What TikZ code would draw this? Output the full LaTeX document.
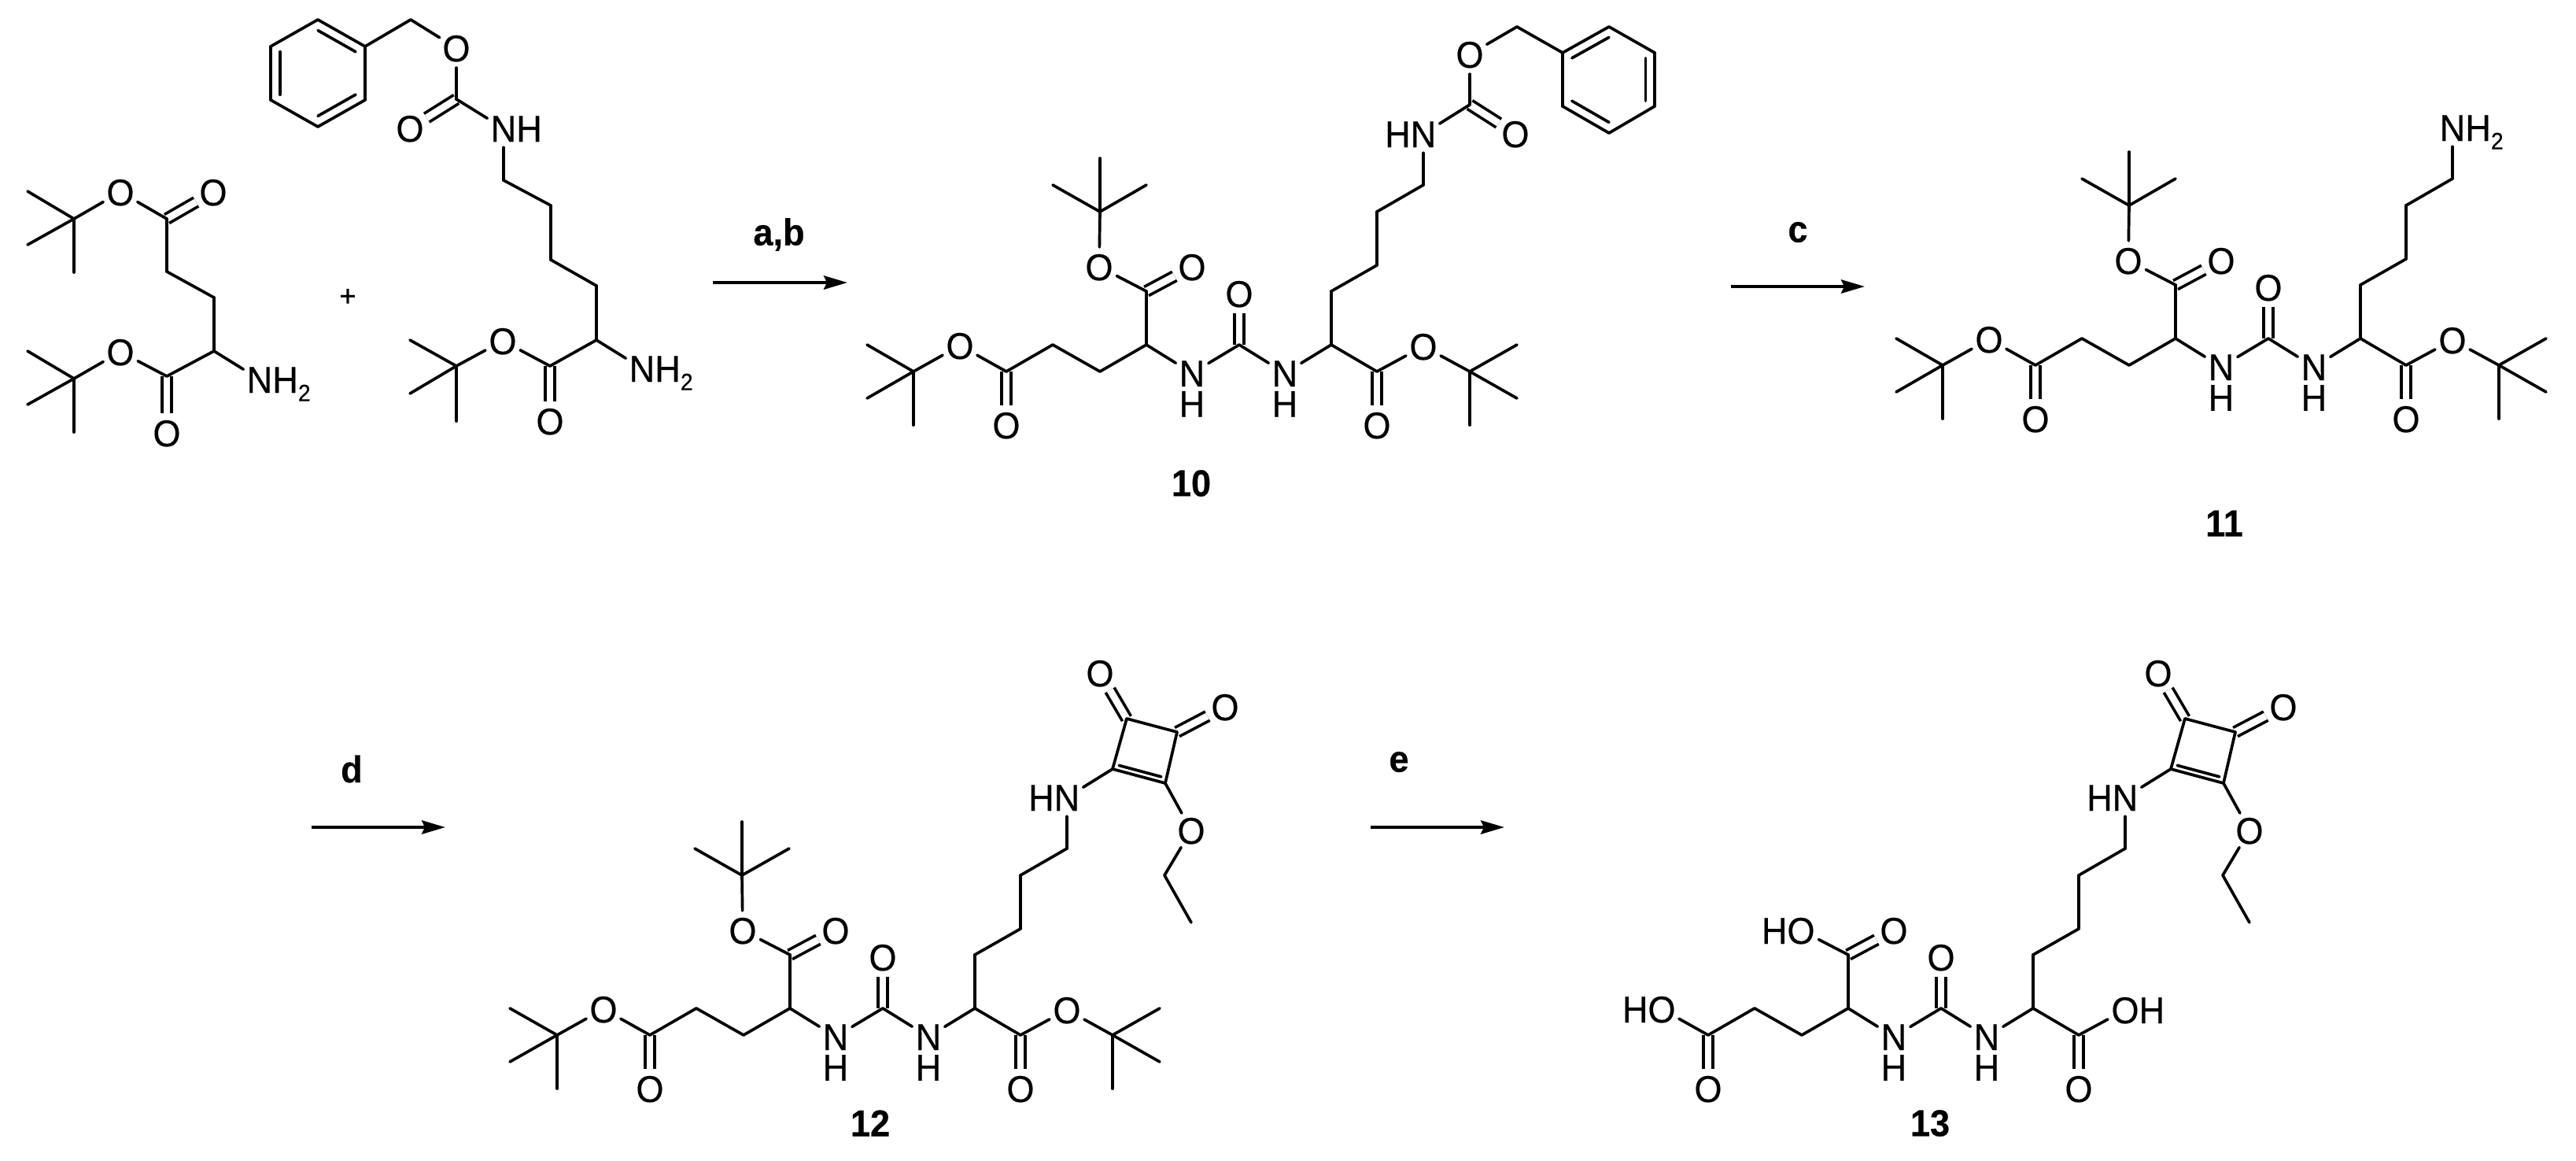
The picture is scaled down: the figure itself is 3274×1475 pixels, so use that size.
\documentclass[tikz,border=0pt]{standalone}
\usepackage{fontspec}
\setmainfont[FakeStretch=0.95,FakeBold=0.4,BoldFeatures={FakeStretch=0.95}]{Liberation Sans}
\usetikzlibrary{arrows.meta,calc}
\newcommand{\atomfont}{\fontsize{13.5}{13.5}\selectfont}
\newcommand{\labfont}{\fontsize{13.5}{13.5}\selectfont\bfseries}
\newcommand{\subtwo}{\raisebox{-3pt}{\fontsize{8.5}{8.5}\selectfont 2}}
\newcommand{\hbelow}{\llap{\raisebox{-11pt}{H}}}
\tikzset{
  atom/.style={circle,inner sep=0pt,font=\atomfont,text height=9.7pt,text depth=0pt,minimum size=13.4pt},
  bond/.style={line width=1.05pt,line cap=round,black},
  dbl/.style={line width=1.05pt,double,double distance=2.5pt,black},
  lab/.style={inner sep=0pt,font=\labfont},
  rxn/.style={line width=1.14pt,-{Stealth[length=8.5pt,width=4.9pt,inset=1.1pt]}}
}
% tert-butyl: name, attached node, centre, three methyl positions
\newcommand{\tbu}[6]{%
  \coordinate (#1) at (#3);
  \coordinate (#1a) at (#4);
  \coordinate (#1b) at (#5);
  \coordinate (#1c) at (#6);
  \foreach \p/\q in {#2/#1,#1/#1a,#1/#1b,#1/#1c}{\draw[bond] (\p)--(\q);}
}
% inner line of a ring double bond: first, second, ring centre
\newcommand{\ringin}[3]{\draw[bond] ($(#1)!.2!(#3)$)--($(#2)!.2!(#3)$);}
% urea core of 10-13: prefix, three ester O texts, chain end text
\newcommand{\ureacore}[5]{%
  \node[atom] (#1Oa) at (59,-33) {#2};
  \coordinate (#1Ca) at (118,0);
  \node[atom] (#1Ob) at (118,68) {O};
  \coordinate (#1Cb) at (177,-34);
  \coordinate (#1Cc) at (237,0);
  \coordinate (#1Cd) at (296,-34);
  \coordinate (#1Ce) at (296,-102);
  \node[atom] (#1Oc) at (354,-133) {O};
  \node[atom] (#1Od) at (236,-133) {#3};
  \node[atom] (#1Na) at (354,2) {N\hbelow};
  \coordinate (#1Cu) at (414,-34);
  \node[atom] (#1Ou) at (414,-99) {O};
  \node[atom] (#1Nb) at (472,2) {N\hbelow};
  \coordinate (#1Cf) at (531,-34);
  \coordinate (#1Cg) at (589,0);
  \node[atom] (#1Og) at (589,68) {O};
  \node[atom] (#1Oh) at (648,-32) {#4};
  \coordinate (#1Ci) at (531,-102);
  \coordinate (#1Cj) at (589,-135);
  \coordinate (#1Ck) at (589,-203);
  \coordinate (#1Cl) at (648,-237);
  \node[atom] (#1Ne) at (648,-302) {#5};
  \foreach \p/\q in {Ca/Ob,Ce/Oc,Cu/Ou,Cg/Og}{\draw[dbl] (#1\p)--(#1\q);}
  \foreach \p/\q in {Oa/Ca,Ca/Cb,Cb/Cc,Cc/Cd,Cd/Ce,Ce/Od,Cd/Na,Na/Cu,Cu/Nb,Nb/Cf,Cf/Cg,Cg/Oh,Cf/Ci,Ci/Cj,Cj/Ck,Ck/Cl,Cl/Ne}{\draw[bond] (#1\p)--(#1\q);}
}
% ethyl squarate attached to chain nitrogen
\newcommand{\squarate}[1]{%
  \coordinate (#1Sa) at (706,-338);
  \coordinate (#1Sb) at (773,-320);
  \coordinate (#1Sc) at (788,-385);
  \coordinate (#1Sd) at (724,-402);
  \coordinate (#1Sm) at (747,-361);
  \node[atom] (#1Oe) at (849,-417) {O};
  \node[atom] (#1Of) at (690,-460) {O};
  \node[atom] (#1Oi) at (806,-260) {O};
  \coordinate (#1Et) at (772,-203);
  \coordinate (#1Me) at (806,-143);
  \foreach \p/\q in {Sc/Oe,Sd/Of}{\draw[dbl] (#1\p)--(#1\q);}
  \foreach \p/\q in {Ne/Sa,Sa/Sb,Sb/Sc,Sc/Sd,Sd/Sa,Sb/Oi,Oi/Et,Et/Me}{\draw[bond] (#1\p)--(#1\q);}
  \ringin{#1Sa}{#1Sb}{#1Sm}
}
\begin{document}
\begin{tikzpicture}[x=.01cm,y=-.01cm]
\useasboundingbox (0,0) rectangle (3274,1475);

% glutamate reactant
\node[atom] (gOa) at (153,244) {O};
\coordinate (gCa) at (212,278);
\node[atom] (gOb) at (271,244) {O};
\coordinate (gCb) at (212,345);
\coordinate (gCc) at (272,378);
\coordinate (gCd) at (272,446);
\node[atom] (gN) at (330,482) {N\rlap{H\subtwo}};
\coordinate (gCe) at (212,478);
\node[atom] (gOc) at (153,447) {O};
\node[atom] (gOd) at (212,550) {O};
\foreach \p/\q in {gCa/gOb,gCe/gOd}{\draw[dbl] (\p)--(\q);}
\foreach \p/\q in {gOa/gCa,gCa/gCb,gCb/gCc,gCc/gCd,gCd/gN,gCd/gCe,gCe/gOc}{\draw[bond] (\p)--(\q);}
\tbu{gT}{gOa}{94,278}{35,243}{35,311}{94,346}
\tbu{gU}{gOc}{94,481}{35,446}{35,514}{94,549}

\node[inner sep=0pt,font=\fontsize{10.8}{10.8}\selectfont] (plus) at (442,378) {+};

% lysine reactant
\node[atom] (lOa) at (639,433) {O};
\coordinate (lCa) at (699,465);
\node[atom] (lOb) at (699,535) {O};
\coordinate (lCb) at (758,432);
\node[atom] (lN) at (816,468) {N\rlap{H\subtwo}};
\coordinate (lCc) at (758,363);
\coordinate (lCd) at (700,330);
\coordinate (lCe) at (700,261);
\coordinate (lCf) at (640,229);
\node[atom] (lNe) at (640,163) {N\rlap{H}};
\coordinate (lCg) at (580,126);
\node[atom] (lOc) at (521,163) {O};
\node[atom] (lOd) at (580,61) {O};
\coordinate (lCh) at (522,25);
\coordinate (lRa) at (464,59);
\coordinate (lRb) at (404,25);
\coordinate (lRc) at (344,59);
\coordinate (lRd) at (344,127);
\coordinate (lRe) at (404,161);
\coordinate (lRf) at (464,127);
\coordinate (lRm) at (404,93);
\foreach \p/\q in {lCa/lOb,lCg/lOc}{\draw[dbl] (\p)--(\q);}
\foreach \p/\q in {lOa/lCa,lCa/lCb,lCb/lN,lCb/lCc,lCc/lCd,lCd/lCe,lCe/lCf,lCf/lNe,lNe/lCg,lCg/lOd,lOd/lCh,lCh/lRa,lRa/lRb,lRb/lRc,lRc/lRd,lRd/lRe,lRe/lRf,lRf/lRa}{\draw[bond] (\p)--(\q);}
\ringin{lRa}{lRb}{lRm}
\ringin{lRc}{lRd}{lRm}
\ringin{lRe}{lRf}{lRm}
\tbu{lT}{lOa}{580,465}{521,432}{521,500}{580,535}

% arrow a,b
\node[lab] (tab) at (990,298) {a,b};
\coordinate (abS) at (906,359);
\coordinate (abE) at (1077,359);
\draw[rxn] (abS)--(abE);

% compound 10
\begin{scope}[shift={(1161,472)}]
\ureacore{j}{O}{O}{O}{\llap{H}N}
\tbu{jT}{jOa}{0,0}{-59,-34}{-59,34}{0,68}
\tbu{jU}{jOd}{237,-203}{177,-237}{296,-237}{237,-271}
\tbu{jV}{jOh}{707,0}{767,-34}{767,34}{707,68}
\coordinate (jCz) at (707,-339);
\node[atom] (jOx) at (765,-302) {O};
\node[atom] (jOy) at (707,-403) {O};
\coordinate (jCh) at (767,-438);
\coordinate (jRa) at (825,-405);
\coordinate (jRb) at (884,-438);
\coordinate (jRc) at (942,-405);
\coordinate (jRd) at (942,-337);
\coordinate (jRe) at (884,-303);
\coordinate (jRf) at (825,-337);
\coordinate (jRm) at (884,-371);
\draw[dbl] (jCz)--(jOx);
\foreach \p/\q in {jNe/jCz,jCz/jOy,jOy/jCh,jCh/jRa,jRa/jRb,jRb/jRc,jRc/jRd,jRd/jRe,jRe/jRf,jRf/jRa}{\draw[bond] (\p)--(\q);}
\ringin{jRa}{jRb}{jRm}
\ringin{jRc}{jRd}{jRm}
\ringin{jRe}{jRf}{jRm}
\end{scope}
\node[lab] (t10) at (1514,614) {10};

% arrow c
\node[lab] (tc) at (2285,295) {c};
\coordinate (cS) at (2200,364);
\coordinate (cE) at (2370,364);
\draw[rxn] (cS)--(cE);

% compound 11
\begin{scope}[shift={(2469,464)}]
\ureacore{k}{O}{O}{O}{N\rlap{H\subtwo}}
\tbu{kT}{kOa}{0,0}{-59,-34}{-59,34}{0,68}
\tbu{kU}{kOd}{237,-203}{177,-237}{296,-237}{237,-271}
\tbu{kV}{kOh}{707,0}{767,-34}{767,34}{707,68}
\end{scope}
\node[lab] (t11) at (2827,665) {11};

% arrow d
\node[lab] (td) at (447,977) {d};
\coordinate (dS) at (396,1051);
\coordinate (dE) at (566,1051);
\draw[rxn] (dS)--(dE);

% compound 12
\begin{scope}[shift={(708,1315)}]
\ureacore{m}{O}{O}{O}{\llap{H}N}
\tbu{mT}{mOa}{0,0}{-60,-34}{-60,34}{0,68}
\tbu{mU}{mOd}{235,-203}{175,-237}{295,-237}{235,-271}
\tbu{mV}{mOh}{706,0}{766,-34}{766,34}{706,68}
\squarate{m}
\end{scope}
\node[lab] (t12) at (1106,1427) {12};

% arrow e
\node[lab] (te) at (1778,968) {e};
\coordinate (eS) at (1742,1051);
\coordinate (eE) at (1912,1051);
\draw[rxn] (eS)--(eE);

% compound 13
\begin{scope}[shift={(2053,1315)}]
\ureacore{n}{\llap{H}O}{\llap{H}O}{O\rlap{H}}{\llap{H}N}
\squarate{n}
\end{scope}
\node[lab] (t13) at (2453,1427) {13};
\end{tikzpicture}
\end{document}
